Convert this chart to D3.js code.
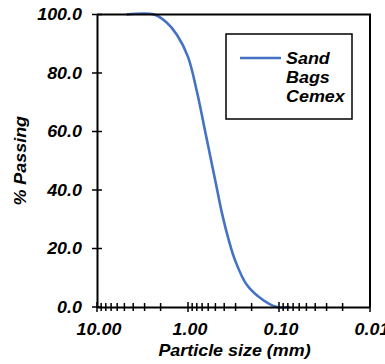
<!DOCTYPE html>
<html>
<head>
<meta charset="utf-8">
<script src="https://cdn.jsdelivr.net/npm/d3@7"></script>
<style>
  body { margin: 0; background: #fff; }
  text { font-family: "Liberation Sans", Arial, sans-serif; font-weight: bold; font-style: italic; }
</style>
</head>
<body>
<svg id="chart" width="385" height="364"></svg>
<script>
// particle size (mm) and % passing
var sizes   = [4.75, 2.36, 1.75, 1.32, 1.0,  0.796, 0.667, 0.573, 0.492, 0.423, 0.354, 0.304, 0.225, 0.150, 0.105, 0.0757];
var passing = [100,  100,  97.5, 93,   85.5, 73.5,  62,    52,    42,    32,    22.5,  16,    7.5,   2.4,   0,     0];
var seriesName = ["Sand", "Bags", "Cemex"];
var yTicks = [0, 20, 40, 60, 80, 100];
var xMajor = [10, 1, 0.1, 0.01];
var xLabels = ["10.00", "1.00", "0.10", "0.01"];

var plotLeft = 97, plotRight = 370, plotTop = 14.5, plotBottom = 307;
var blue = "#4472C4";
var stretch = 1.12;

var svg = d3.select("#chart");

var x = d3.scaleLog().domain([10, 0.01]).range([plotLeft, plotRight]);
var y = d3.scaleLinear().domain([0, 100]).range([plotBottom, plotTop]);

// helper for horizontally stretched text
function label(px, py, txt, anchor, size, rot) {
  var g = svg.append("g")
    .attr("transform", "translate(" + px + "," + py + ")" + (rot ? " rotate(" + rot + ")" : "") + " scale(" + stretch + ",1)");
  g.append("text")
    .attr("text-anchor", anchor)
    .style("font-size", size + "px")
    .attr("fill", "#000")
    .text(txt);
  return g;
}

// curve
var data = sizes.map(function(s, i) { return { s: s, p: passing[i] }; });
var line = d3.line()
  .x(function(d) { return x(d.s); })
  .y(function(d) { return y(d.p); })
  .curve(d3.curveCatmullRom.alpha(0.5));

svg.append("path")
  .datum(data)
  .attr("d", line)
  .attr("fill", "none")
  .attr("stroke", blue)
  .attr("stroke-width", 2.6);

// plot border top / right
svg.append("path")
  .attr("d", "M" + plotLeft + "," + plotTop + "H" + plotRight + "V" + plotBottom)
  .attr("fill", "none")
  .attr("stroke", "#000")
  .attr("stroke-width", 2);

// y axis
var yAxis = d3.axisLeft(y).tickValues(yTicks).tickSize(0).tickFormat("");
svg.append("g").attr("transform", "translate(" + plotLeft + ",0)").call(yAxis)
  .select(".domain").attr("stroke-width", 2);
yTicks.forEach(function(t) {
  svg.append("line")
    .attr("x1", plotLeft - 5).attr("x2", plotLeft + 5)
    .attr("y1", y(t)).attr("y2", y(t))
    .attr("stroke", "#000").attr("stroke-width", 1.5);
  label(plotLeft - 15, y(t) + 5.5, d3.format(".1f")(t), "end", 16);
});

// x axis
var xAxis = d3.axisBottom(x).tickValues([]).tickSize(0);
svg.append("g").attr("transform", "translate(0," + plotBottom + ")").call(xAxis)
  .select(".domain").attr("stroke-width", 2);
x.ticks().forEach(function(t) {
  var major = Math.abs(Math.log10(t) - Math.round(Math.log10(t))) < 1e-6;
  var h = major ? 5 : 4;
  svg.append("line")
    .attr("x1", x(t)).attr("x2", x(t))
    .attr("y1", plotBottom - h).attr("y2", plotBottom + h)
    .attr("stroke", "#000").attr("stroke-width", 1.5);
});
xMajor.forEach(function(t, i) {
  label(x(t) + 2, 335, xLabels[i], "middle", 16);
});

// axis titles
label((plotLeft + plotRight) / 2 + 1, 356, "Particle size (mm)", "middle", 16);
label(26, (plotTop + plotBottom) / 2, "% Passing", "middle", 16, -90);

// legend
svg.append("rect")
  .attr("x", 226).attr("y", 34)
  .attr("width", 126).attr("height", 85)
  .attr("fill", "#fff")
  .attr("stroke", "#000").attr("stroke-width", 1.5);
svg.append("line")
  .attr("x1", 240).attr("x2", 281)
  .attr("y1", 58).attr("y2", 58)
  .attr("stroke", blue).attr("stroke-width", 2.6);
seriesName.forEach(function(n, i) {
  label(286, 64 + i * 19, n, "start", 16);
});
</script>
</body>
</html>
